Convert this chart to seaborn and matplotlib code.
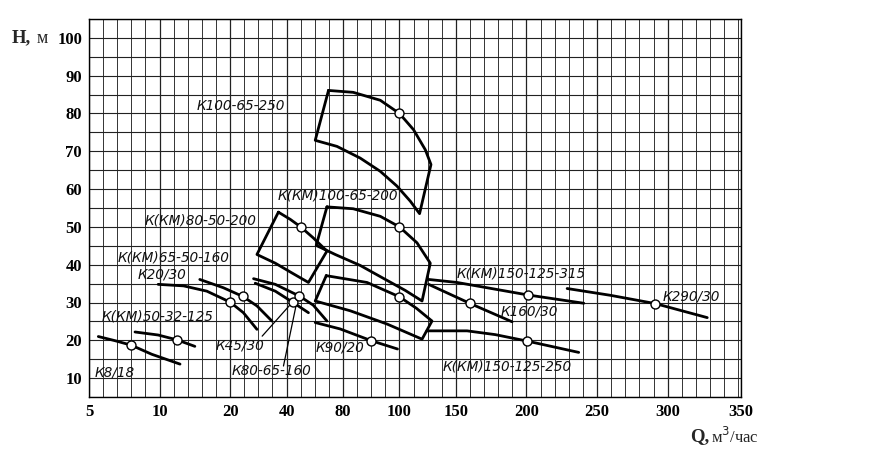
import numpy as np
import matplotlib
matplotlib.use("Agg")
import matplotlib.pyplot as plt
import seaborn as sns
from matplotlib.ticker import FixedLocator, NullFormatter

# ---------------- axis definition (non-uniform Q scale of the original chart) ----
x_tick_values = [5, 10, 20, 40, 80, 100, 150, 200, 250, 300, 350]
x_tick_cells = [0, 5, 10, 14, 18, 22, 26, 31, 36, 41, 46.2]
y_tick_values = [10, 20, 30, 40, 50, 60, 70, 80, 90, 100]

# ---------------- pump curves (Q, м3/час ; H, м) ----------------
k8_18_q = [5.66, 6.84, 8.0, 9.45, 12.9]
k8_18_h = [21.0, 19.9, 18.7, 16.3, 13.7]

k50_32_125_q = [8.26, 9.9, 12.5, 15.0]
k50_32_125_h = [22.2, 21.4, 20.1, 18.4]

k20_30_q = [9.9, 13.4, 16.7, 20.0, 24.7, 29.5]
k20_30_h = [34.8, 34.4, 33.0, 30.1, 27.3, 22.9]

k65_50_160_q = [15.7, 19.05, 24.5, 29.5, 34.8]
k65_50_160_h = [36.1, 33.9, 31.6, 29.1, 25.1]

k45_30_q = [28.9, 36.0, 44.2, 55.5]
k45_30_h = [35.1, 33.0, 30.1, 27.3]

k80_65_160_q = [28.3, 36.0, 49.1, 58.9, 68.6]
k80_65_160_h = [36.3, 34.8, 31.7, 29.3, 25.1]

k90_20_q = [60.3, 78.0, 90.0, 99.3]
k90_20_h = [24.7, 23.0, 19.9, 17.7]

k150_125_315_q = [125.8, 150.8, 172.1, 200.9, 240.6]
k150_125_315_h = [36.1, 35.3, 33.9, 32.0, 29.8]

k160_30_q = [125.8, 159.7, 174.4, 189.8]
k160_30_h = [34.8, 29.8, 27.4, 24.9]

k290_30_q = [228.8, 259.5, 291.4, 327.0]
k290_30_h = [33.7, 31.9, 29.7, 26.0]

k150_125_250_q = [124.3, 157.9, 177.9, 200.4, 237.0]
k150_125_250_h = [22.5, 22.5, 21.5, 19.8, 16.8]

# ---------------- working fields (closed outlines) ----------------
k100_65_250_q = [69.7, 83.6, 93.2, 100, 112.5, 122.9, 127.9, 117.8, 109.6, 99.1, 93.2, 86.1, 75.7, 60.3, 69.7]
k100_65_250_h = [86.1, 85.6, 83.5, 80, 75.7, 70.4, 66.5, 53.5, 56.8, 60.8, 64.7, 68.2, 71.3, 72.9, 86.1]

k100_65_200_q = [68.6, 83.6, 93.2, 100, 115.5, 127.3, 120, 105.1, 95.0, 86.1, 74.5, 61.0, 68.6]
k100_65_200_h = [55.3, 54.8, 52.8, 50, 45.8, 40.4, 30.4, 33.2, 36.1, 39.8, 42.7, 45.1, 55.3]

k80_50_200_q = [37.1, 42.6, 50, 58.9, 68.6, 55.5, 43.9, 36.0, 29.5, 37.1]
k80_50_200_h = [53.9, 52.0, 50, 47.1, 43.6, 35.3, 37.8, 40.4, 42.7, 53.9]

field_lower_q = [68.1, 88.5, 100, 114.9, 128.8, 120, 95.6, 82.6, 60.3, 68.1]
field_lower_h = [37.1, 35.3, 31.5, 28.5, 25.1, 20.3, 24.3, 27.8, 30.4, 37.1]

# ---------------- rated points (open circles) ----------------
bep_q = [8, 12.5, 20, 24.5, 44.2, 49.1, 50, 100, 100, 100, 90, 159.7, 200.9, 200.4, 291.4]
bep_h = [18.7, 20.1, 30.1, 31.6, 30.1, 31.7, 50, 50, 80, 31.5, 19.9, 29.8, 32.0, 19.8, 29.7]

# ---------------- labels ----------------
label_text = ["К100-65-250", "К(КМ)100-65-200", "К(КМ)80-50-200", "К(КМ)65-50-160",
              "К20/30", "К(КМ)50-32-125", "К8/18", "К45/30", "К80-65-160", "К90/20",
              "К160/30", "К290/30", "К(КМ)150-125-315", "К(КМ)150-125-250"]
label_q = [15.3, 37.0, 8.97, 7.06, 8.48, 5.92, 5.43, 18.0, 20.7, 60.3, 181.5, 296.4, 150.3, 138.0]
label_h = [82.0, 58.3, 51.7, 41.9, 37.5, 26.4, 11.6, 18.7, 11.9, 18.2, 27.7, 31.6, 37.7, 13.2]

leader_k45_q = [31.35, 44.2]
leader_k45_h = [21.1, 30.1]
leader_k80_q = [38.9, 47.5]
leader_k80_h = [13.2, 30.6]

# ---------------- scale helpers ----------------
_qk = np.array([-1e4] + x_tick_values + [1e5], dtype=float)
_ck = np.array([-1e4 - 5] + x_tick_cells + [46.2 + (1e5 - 350) * 0.104], dtype=float)


def fwd(q):
    return np.interp(np.asarray(q, dtype=float), _qk, _ck)


def inv(c):
    return np.interp(np.asarray(c, dtype=float), _ck, _qk)


sns.set_theme(style="white")
plt.rcParams["font.family"] = ["DejaVu Sans"]

fig = plt.figure(figsize=(8.76, 4.57), dpi=100)
ax = fig.add_axes([89 / 876, 1 - 397 / 457, (741 - 89) / 876, (397 - 19) / 457])
ax.set_facecolor("white")
ax.set_xscale("function", functions=(fwd, inv))
ax.set_xlim(5, 350)
ax.set_ylim(5, 105)

curve_kw = dict(color="black", linewidth=2.0, sort=False, estimator=None, legend=False, ax=ax)
for q, h in [(k8_18_q, k8_18_h), (k50_32_125_q, k50_32_125_h), (k20_30_q, k20_30_h),
             (k65_50_160_q, k65_50_160_h), (k45_30_q, k45_30_h), (k80_65_160_q, k80_65_160_h),
             (k90_20_q, k90_20_h), (k150_125_315_q, k150_125_315_h), (k160_30_q, k160_30_h),
             (k290_30_q, k290_30_h), (k150_125_250_q, k150_125_250_h),
             (k100_65_250_q, k100_65_250_h), (k100_65_200_q, k100_65_200_h),
             (k80_50_200_q, k80_50_200_h), (field_lower_q, field_lower_h)]:
    sns.lineplot(x=q, y=h, **curve_kw)

for q, h in [(leader_k45_q, leader_k45_h), (leader_k80_q, leader_k80_h)]:
    sns.lineplot(x=q, y=h, color="black", linewidth=0.9, sort=False, estimator=None,
                 legend=False, ax=ax)

sns.scatterplot(x=bep_q, y=bep_h, s=42, facecolor="white", edgecolor="black",
                linewidth=1.0, zorder=5, legend=False, ax=ax)

for t, q, h in zip(label_text, label_q, label_h):
    ax.text(q, h, t, ha="left", va="center", fontsize=9.8, style="italic",
            family="DejaVu Sans", color="#111111", zorder=6)

# grid
ax.xaxis.set_major_locator(FixedLocator(x_tick_values))
ax.xaxis.set_minor_locator(FixedLocator(inv(np.arange(0, 47))))
ax.xaxis.set_minor_formatter(NullFormatter())
ax.yaxis.set_major_locator(FixedLocator(y_tick_values))
ax.yaxis.set_minor_locator(FixedLocator(np.arange(5, 106, 5)))
ax.grid(which="minor", axis="x", color="#333333", linewidth=0.7)
ax.grid(which="major", axis="x", color="#222222", linewidth=0.9)
ax.grid(which="both", axis="y", color="#222222", linewidth=0.8)
ax.set_axisbelow(True)

ax.set_xticklabels([str(v) for v in x_tick_values])
ax.set_yticklabels([str(v) for v in y_tick_values])
ax.tick_params(axis="both", which="both", length=0)
ax.tick_params(axis="x", pad=5)
ax.tick_params(axis="y", pad=5)
for lab in ax.get_xticklabels() + ax.get_yticklabels():
    lab.set_fontfamily("Liberation Serif")
    lab.set_fontweight("bold")
    lab.set_fontsize(12)
    lab.set_color("black")

for sp in ax.spines.values():
    sp.set_color("black")
    sp.set_linewidth(1.0)
    sp.set_visible(True)

fig.text(12 / 876, 1 - 38 / 457, "H,", fontsize=13.5, fontweight="bold",
         family="Liberation Serif", va="center", ha="left")
fig.text(37 / 876, 1 - 38.5 / 457, "м", fontsize=13, family="Liberation Serif",
         va="center", ha="left")
fig.text(690 / 876, 1 - 437 / 457, "Q,", fontsize=13.5, fontweight="bold",
         family="Liberation Serif", va="center", ha="left")
fig.text(711 / 876, 1 - 437 / 457, "м$^3$/час", fontsize=12, family="Liberation Serif",
         va="center", ha="left")

fig.savefig("out.png", dpi=100, facecolor="white")
